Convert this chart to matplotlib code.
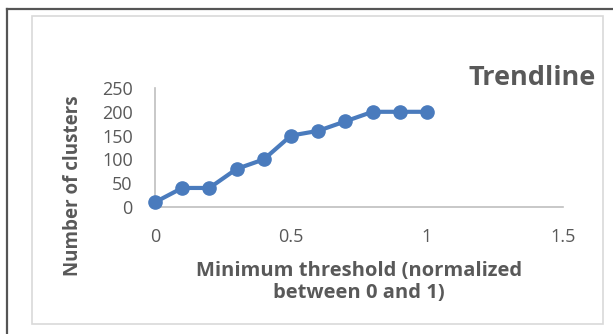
import matplotlib.pyplot as plt
from matplotlib.patches import Rectangle
from matplotlib.lines import Line2D

threshold = [0, 0.1, 0.2, 0.3, 0.4, 0.5, 0.6, 0.7, 0.8, 0.9, 1.0]
clusters = [10, 40, 40, 80, 100, 150, 160, 180, 200, 200, 200]
x_ticks = [0, 0.5, 1, 1.5]
x_tick_labels = ['0', '0.5', '1', '1.5']
y_ticks = [0, 50, 100, 150, 200, 250]

W, H = 613, 334
fig = plt.figure(figsize=(W / 100, H / 100), dpi=100)
plt.rcParams['font.family'] = ['Open Sans', 'DejaVu Sans']

text_col = '#595959'
blue = '#4a7bbd'

# frames (outer dark border, inner light chart-area box)
fig.add_artist(Line2D([7 / W, 7 / W], [0, 1 - 9 / H], transform=fig.transFigure,
                      color='#555555', lw=1.6))
fig.add_artist(Line2D([7 / W, 1], [1 - 9 / H, 1 - 9 / H], transform=fig.transFigure,
                      color='#555555', lw=1.6))
fig.add_artist(Rectangle((32 / W, 1 - 324 / H), (603 - 32) / W, (324 - 16) / H,
                         transform=fig.transFigure, fill=False,
                         edgecolor='#d9d9d9', lw=1.2))

ax = fig.add_axes([155 / W, 1 - 207 / H, (563 - 155) / W, (207 - 88) / H])
ax.plot(threshold, clusters, color=blue, lw=3, marker='o', markersize=9.5,
        clip_on=False, zorder=3)

ax.set_xlim(0, 1.5)
ax.set_ylim(0, 250)
ax.set_xticks(x_ticks)
ax.set_xticklabels(x_tick_labels)
ax.set_yticks(y_ticks)
for s in ['top', 'right']:
    ax.spines[s].set_visible(False)
for s in ['left', 'bottom']:
    ax.spines[s].set_color('#bfbfbf')
    ax.spines[s].set_linewidth(1.2)
ax.tick_params(axis='both', length=0, labelsize=13, colors=text_col)
ax.tick_params(axis='x', pad=15)
ax.tick_params(axis='y', pad=16)

ax.set_xlabel('Minimum threshold (normalized\nbetween 0 and 1)', fontsize=14.5,
              fontweight='bold', color=text_col, linespacing=1.15)
ax.xaxis.set_label_coords((359 - 155) / 408, -(282 - 207) / 119)
ax.set_ylabel('Number of clusters', fontsize=13.5, fontweight='bold',
              color=text_col)
ax.yaxis.set_label_coords(-(155 - 73) / 408, -(186 - 207) / 119)
ax.yaxis.label.set_va('center')
ax.xaxis.label.set_va('center')

fig.text(596 / W, 1 - 78 / H, 'Trendline', fontsize=19.5, fontweight='bold',
         color=text_col, ha='right', va='center')

fig.savefig('out.png', dpi=100)
